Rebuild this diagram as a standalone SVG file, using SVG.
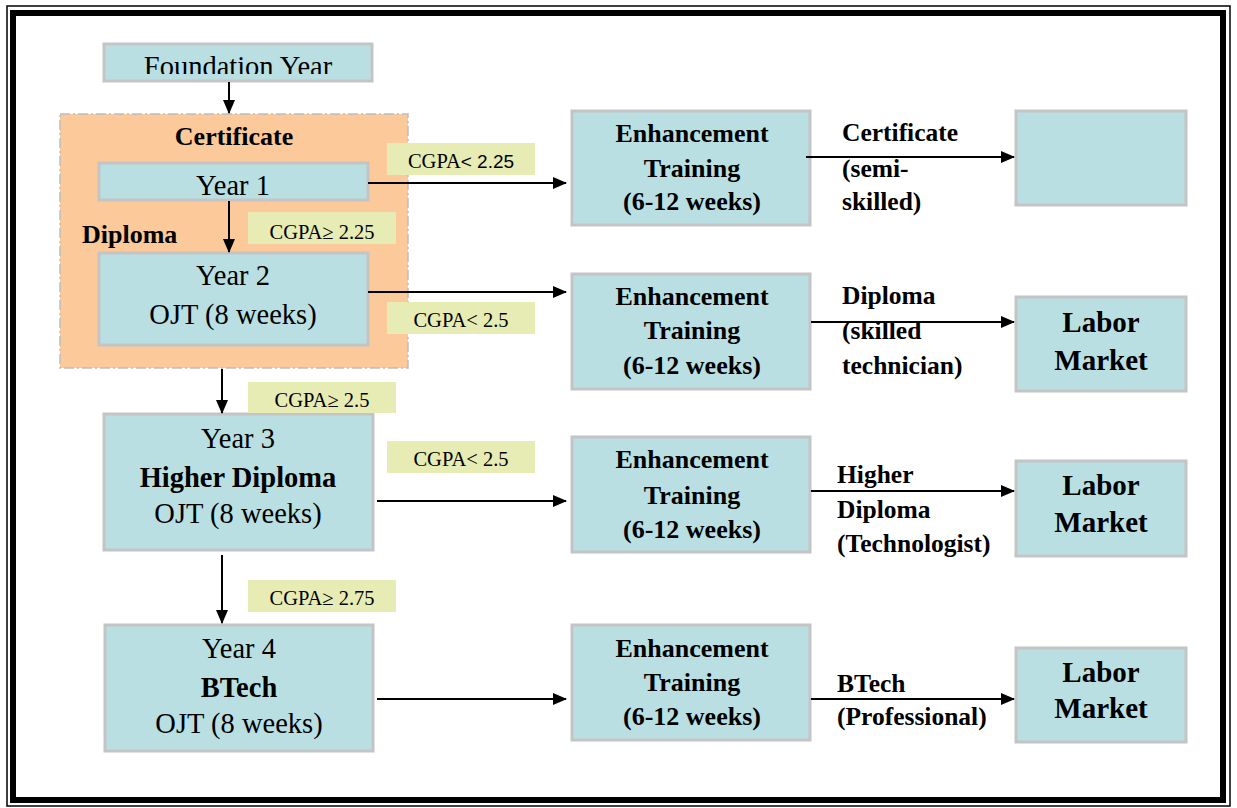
<svg xmlns="http://www.w3.org/2000/svg" width="1237" height="808" viewBox="0 0 1237 808">
<defs>
<style>
.box{fill:#B9DFE3;stroke:#C4C4C4;stroke-width:3}
.lab{fill:#E7EBB4}
.t{font-family:"Liberation Serif","Times New Roman",serif;fill:#000}
.n{font-size:28.5px}
.b{font-size:28.5px;font-weight:bold}
.e{font-size:26px;font-weight:bold}
.m{font-size:29px;font-weight:bold}
.o{font-size:25.5px;font-weight:bold}
.c{font-size:20.5px}
.conn{stroke:#000;stroke-width:2;fill:none;marker-end:url(#ah)}
</style>
<marker id="ah" viewBox="0 0 14 12" refX="13" refY="6" markerWidth="14" markerHeight="12" markerUnits="userSpaceOnUse" orient="auto">
<path d="M0,0 L14,6 L0,12 Z" fill="#000"/>
</marker>
<clipPath id="fclip"><rect x="104" y="44" width="268" height="30"/></clipPath>
</defs>
<rect x="0" y="0" width="1237" height="808" fill="#fff"/>
<rect x="7" y="6" width="1223" height="800" fill="none" stroke="#000" stroke-width="1.5"/>
<rect x="13" y="13" width="1210" height="787" fill="none" stroke="#000" stroke-width="6"/>

<g id="group-cert">
<rect x="60" y="114" width="348" height="254" fill="#FBC99A" stroke="#BDBDBD" stroke-width="1.5" stroke-dasharray="10,3,2,3"/>
<text class="t e" x="234" y="145" text-anchor="middle">Certificate</text>
<text class="t e" x="82" y="243">Diploma</text>
</g>

<g id="foundation">
<rect class="box" x="104" y="44" width="268" height="37"/>
<text class="t n" x="238" y="76" text-anchor="middle" clip-path="url(#fclip)">Foundation Year</text>
</g>

<g id="year1">
<rect class="box" x="99" y="163" width="269" height="37"/>
<text class="t n" x="233" y="195" text-anchor="middle">Year 1</text>
</g>

<g id="year2">
<rect class="box" x="99" y="253" width="269" height="92"/>
<text class="t n" x="233" y="285" text-anchor="middle">Year 2</text>
<text class="t n" x="233" y="324" text-anchor="middle">OJT (8 weeks)</text>
</g>

<g id="year3">
<rect class="box" x="104" y="414" width="269" height="136"/>
<text class="t n" x="238" y="448" text-anchor="middle">Year 3</text>
<text class="t b" x="238" y="487" text-anchor="middle">Higher Diploma</text>
<text class="t n" x="238" y="523" text-anchor="middle">OJT (8 weeks)</text>
</g>

<g id="year4">
<rect class="box" x="105" y="625" width="268" height="126"/>
<text class="t n" x="239" y="658" text-anchor="middle">Year 4</text>
<text class="t b" x="239" y="697" text-anchor="middle">BTech</text>
<text class="t n" x="239" y="733" text-anchor="middle">OJT (8 weeks)</text>
</g>

<g id="enh1">
<rect class="box" x="572" y="111" width="238" height="114"/>
<text class="t e" x="692" y="142" text-anchor="middle">Enhancement</text>
<text class="t e" x="692" y="177" text-anchor="middle">Training</text>
<text class="t e" x="692" y="210" text-anchor="middle">(6-12 weeks)</text>
</g>
<g id="enh2">
<rect class="box" x="572" y="274" width="238" height="115"/>
<text class="t e" x="692" y="305" text-anchor="middle">Enhancement</text>
<text class="t e" x="692" y="339" text-anchor="middle">Training</text>
<text class="t e" x="692" y="374" text-anchor="middle">(6-12 weeks)</text>
</g>
<g id="enh3">
<rect class="box" x="572" y="437" width="238" height="115"/>
<text class="t e" x="692" y="468" text-anchor="middle">Enhancement</text>
<text class="t e" x="692" y="504" text-anchor="middle">Training</text>
<text class="t e" x="692" y="538" text-anchor="middle">(6-12 weeks)</text>
</g>
<g id="enh4">
<rect class="box" x="572" y="625" width="238" height="115"/>
<text class="t e" x="692" y="657" text-anchor="middle">Enhancement</text>
<text class="t e" x="692" y="691" text-anchor="middle">Training</text>
<text class="t e" x="692" y="725" text-anchor="middle">(6-12 weeks)</text>
</g>

<g id="out1">
<rect class="box" x="1016" y="111" width="170" height="94"/>
</g>
<g id="labor2">
<rect class="box" x="1016" y="297" width="170" height="94"/>
<text class="t m" x="1101" y="332" text-anchor="middle">Labor</text>
<text class="t m" x="1101" y="370" text-anchor="middle">Market</text>
</g>
<g id="labor3">
<rect class="box" x="1016" y="461" width="170" height="95"/>
<text class="t m" x="1101" y="495" text-anchor="middle">Labor</text>
<text class="t m" x="1101" y="532" text-anchor="middle">Market</text>
</g>
<g id="labor4">
<rect class="box" x="1016" y="648" width="170" height="94"/>
<text class="t m" x="1101" y="682" text-anchor="middle">Labor</text>
<text class="t m" x="1101" y="718" text-anchor="middle">Market</text>
</g>

<g id="conditions">
<rect class="lab" x="387" y="143" width="148" height="32"/>
<text class="t c" x="461" y="168" text-anchor="middle">CGPA<tspan style="font-family:'Liberation Sans',Arial,sans-serif;font-size:19px">&lt; 2.25</tspan></text>
<rect class="lab" x="248" y="212" width="148" height="32"/>
<text class="t c" x="322" y="239" text-anchor="middle">CGPA≥ 2.25</text>
<rect class="lab" x="387" y="302" width="148" height="32"/>
<text class="t c" x="461" y="327" text-anchor="middle">CGPA&lt; 2.5</text>
<rect class="lab" x="248" y="382" width="148" height="31"/>
<text class="t c" x="322" y="407" text-anchor="middle">CGPA≥ 2.5</text>
<rect class="lab" x="387" y="441" width="148" height="32"/>
<text class="t c" x="461" y="466" text-anchor="middle">CGPA&lt; 2.5</text>
<rect class="lab" x="248" y="580" width="148" height="32"/>
<text class="t c" x="322" y="605" text-anchor="middle">CGPA≥ 2.75</text>
</g>

<g id="outcome-labels">
<text class="t o" x="842" y="141">Certificate</text>
<text class="t o" x="842" y="177">(semi-</text>
<text class="t o" x="842" y="210">skilled)</text>
<text class="t o" x="842" y="304">Diploma</text>
<text class="t o" x="842" y="339">(skilled</text>
<text class="t o" x="842" y="374">technician)</text>
<text class="t o" x="837" y="483">Higher</text>
<text class="t o" x="837" y="518">Diploma</text>
<text class="t o" x="837" y="552">(Technologist)</text>
<text class="t o" x="837" y="692">BTech</text>
<text class="t o" x="837" y="725">(Professional)</text>
</g>

<g id="connectors">
<line class="conn" x1="229" y1="82" x2="229" y2="113"/>
<line class="conn" x1="229" y1="201" x2="229" y2="252"/>
<line class="conn" x1="222" y1="369" x2="222" y2="413"/>
<line class="conn" x1="222" y1="555" x2="222" y2="623"/>
<line class="conn" x1="368" y1="183" x2="566" y2="183"/>
<line class="conn" x1="368" y1="292" x2="566" y2="292"/>
<line class="conn" x1="377" y1="501" x2="566" y2="501"/>
<line class="conn" x1="377" y1="699" x2="566" y2="699"/>
<line class="conn" x1="806" y1="157" x2="1014" y2="157"/>
<line class="conn" x1="811" y1="322" x2="1014" y2="322"/>
<line class="conn" x1="811" y1="491" x2="1014" y2="491"/>
<line class="conn" x1="811" y1="699" x2="1014" y2="699"/>
</g>
</svg>
